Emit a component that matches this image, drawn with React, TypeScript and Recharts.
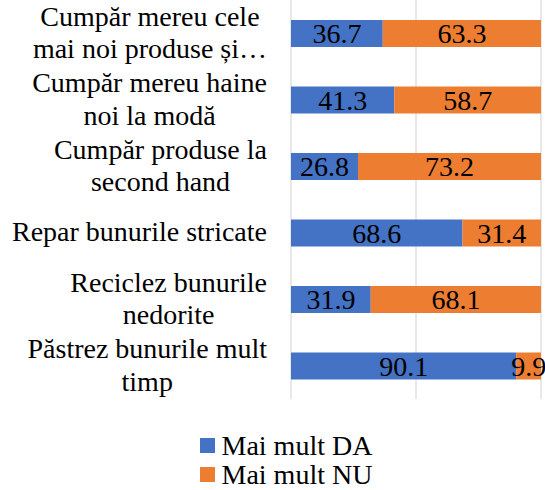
import { BarChart, Bar, XAxis, YAxis, CartesianGrid, Legend, LabelList } from "recharts";

const categories = [
  "Cumpăr mereu cele\nmai noi produse și…",
  "Cumpăr mereu haine\nnoi la modă",
  "Cumpăr produse la\nsecond hand",
  "Repar bunurile stricate",
  "Reciclez bunurile\nnedorite",
  "Păstrez bunurile mult\ntimp",
];
const daValues = [36.7, 41.3, 26.8, 68.6, 31.9, 90.1];
const nuValues = [63.3, 58.7, 73.2, 31.4, 68.1, 9.9];
const seriesNames = ["Mai mult DA", "Mai mult NU"];
const xTicks = [0, 50, 100];

const BLUE = "#4472C4";
const ORANGE = "#ED7D31";
const FONT = "Liberation Serif";
const FONT_SIZE = 28;
const LEGEND_FONT_SIZE = 28;

const data = categories.map((name, i) => ({
  name,
  da: daValues[i],
  nu: nuValues[i],
}));

let ctx: CanvasRenderingContext2D | null = null;
function measure(text: string) {
  if (!ctx) ctx = document.createElement("canvas").getContext("2d");
  if (!ctx) return text.length * FONT_SIZE * 0.45;
  ctx.font = `${FONT_SIZE}px "Liberation Serif"`;
  return ctx.measureText(text).width;
}

// wrapped category label, lines centred on each other, block right-aligned
function CategoryTick(props: any) {
  const { x, y, payload } = props;
  const lines: string[] = String(payload.value).split("\n");
  const lineHeight = 32.5;
  const maxW = Math.max(...lines.map(measure));
  const cx = x - maxW / 2;
  const firstY = y - ((lines.length - 1) * lineHeight) / 2 + 8.5;
  return (
    <text textAnchor="middle" fontFamily={FONT} fontSize={FONT_SIZE} fill="#000">
      {lines.map((l, i) => (
        <tspan key={i} x={cx} y={firstY + i * lineHeight}>
          {l}
        </tspan>
      ))}
    </text>
  );
}

function LegendContent() {
  const colors = [BLUE, ORANGE];
  return (
    <div style={{ height: 91, paddingTop: 32, paddingLeft: 200, boxSizing: "border-box" }}>
      {seriesNames.map((n, i) => (
        <div
          key={n}
          style={{
            display: "flex",
            alignItems: "center",
            height: 29,
            fontFamily: FONT,
            fontSize: LEGEND_FONT_SIZE,
            color: "#000",
            lineHeight: "29px",
            whiteSpace: "nowrap",
          }}
        >
          <span
            style={{
              display: "inline-block",
              width: 15,
              height: 15,
              background: colors[i],
              marginRight: 6.5,
            }}
          />
          {n}
        </div>
      ))}
    </div>
  );
}

export default function App() {
  return (
    <div style={{ position: "absolute", left: 0, top: 0, background: "#fff", fontFamily: FONT }}>
      <BarChart
        width={545}
        height={490}
        data={data}
        layout="vertical"
        barSize={27}
        margin={{ top: 0, right: 4, left: 0, bottom: 0 }}
        style={{ overflow: "visible" }}
      >
        <CartesianGrid horizontal={false} stroke="#d9d9d9" strokeWidth={1.2} />
        <XAxis type="number" domain={[0, 100]} ticks={xTicks} hide />
        <YAxis
          type="category"
          dataKey="name"
          width={291}
          axisLine={false}
          tickLine={false}
          tickSize={0}
          tickMargin={24}
          tick={<CategoryTick />}
          interval={0}
        />
        <Legend verticalAlign="bottom" height={91} content={<LegendContent />} />
        <Bar dataKey="da" name={seriesNames[0]} stackId="a" fill={BLUE} isAnimationActive={false}>
          <LabelList
            dataKey="da"
            position="center"
            fill="#000"
            fontFamily={FONT}
            fontSize={FONT_SIZE}
          />
        </Bar>
        <Bar dataKey="nu" name={seriesNames[1]} stackId="a" fill={ORANGE} isAnimationActive={false}>
          <LabelList
            dataKey="nu"
            position="center"
            fill="#000"
            fontFamily={FONT}
            fontSize={FONT_SIZE}
          />
        </Bar>
      </BarChart>
    </div>
  );
}
